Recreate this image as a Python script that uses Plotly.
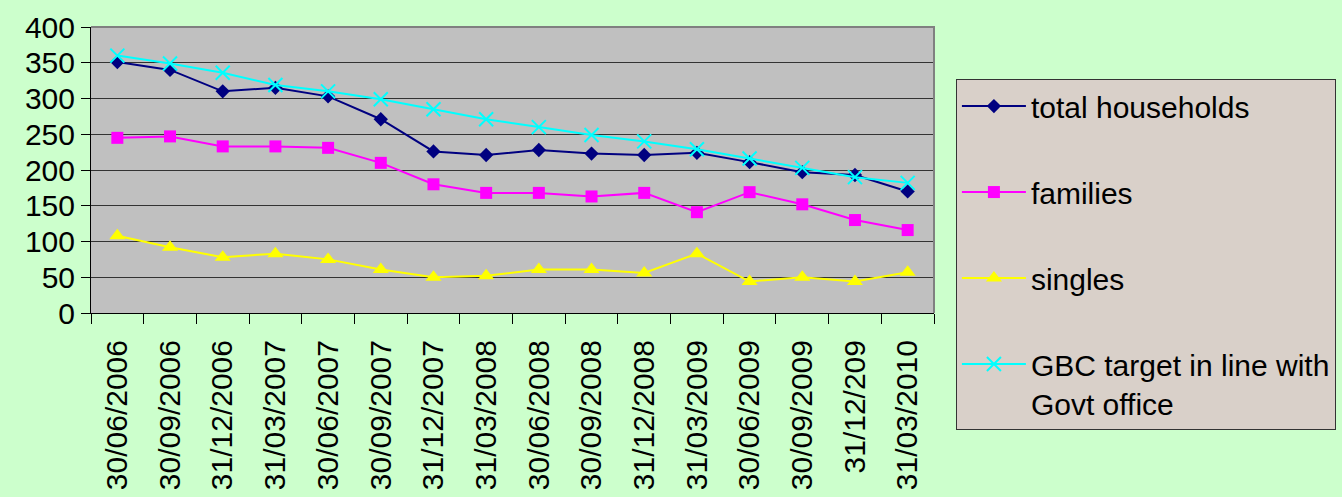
import plotly.graph_objects as go

# Quarter-end reporting dates
dates = ["30/06/2006", "30/09/2006", "31/12/2006", "31/03/2007", "30/06/2007",
         "30/09/2007", "31/12/2007", "31/03/2008", "30/06/2008", "30/09/2008",
         "31/12/2008", "31/03/2009", "30/06/2009", "30/09/2009", "31/12/209",
         "31/03/2010"]

total_households = [351, 340, 310, 315, 303, 271, 226, 221, 228, 223, 221, 224,
                    211, 197, 193, 170]
families = [245, 247, 233, 233, 231, 210, 180, 168, 168, 163, 168, 141, 169,
            152, 130, 116]
singles = [108, 92, 78, 83, 75, 61, 50, 52, 61, 61, 56, 83, 44, 50, 44, 57]
gbc_target = [360, 349, 336, 319, 310, 299, 285, 271, 260, 249, 240, 229, 216,
              203, 190, 182]

y_ticks = [0, 50, 100, 150, 200, 250, 300, 350, 400]

FONT = "Arial, Liberation Sans, sans-serif"

series = [
    ("total households", total_households, "#000080", "diamond", 11),
    ("families", families, "#FF00FF", "square", 12),
    ("singles", singles, "#FFFF00", "triangle-up", 14),
    ("GBC target in line with<br>Govt office", gbc_target, "#00FFFF", "x-thin", 14),
]

fig = go.Figure()
for i, (name, vals, color, symbol, size) in enumerate(series):
    marker = dict(symbol=symbol, size=size, color=color)
    if symbol == "x-thin":
        marker["line"] = dict(color=color, width=2)
    fig.add_trace(go.Scatter(
        x=dates, y=vals, name=name, mode="lines+markers",
        line=dict(color=color, width=2), marker=marker,
        legendgroup=f"g{i}",
    ))

# Grey frame on the top and right edges of the plotting area
fig.add_shape(type="path", xref="paper", yref="paper",
              path="M 0,1 L 1,1 L 1,0", line=dict(color="#808080", width=2))

fig.update_layout(
    width=1342, height=497,
    margin=dict(l=91, r=408, t=27, b=184, autoexpand=False),
    paper_bgcolor="#CCFFCC",
    plot_bgcolor="#C0C0C0",
    font=dict(family=FONT, color="black"),
    showlegend=True,
    legend=dict(
        x=1.026, y=0.818, xanchor="left", yanchor="top",
        bgcolor="#D9D0C9", bordercolor="#333333", borderwidth=1,
        font=dict(family=FONT, size=30, color="black"),
        traceorder="grouped", tracegroupgap=44, valign="top",
        itemwidth=64, maxheight=480,
    ),
    xaxis=dict(
        type="category", tickangle=-90, tickson="boundaries",
        ticks="outside", ticklen=10, tickcolor="black", tickwidth=1,
        ticklabelstandoff=14,
        showline=True, linecolor="black", linewidth=1,
        showgrid=False, automargin=False,
        tickfont=dict(family=FONT, size=30, color="black"),
        range=[-0.5, len(dates) - 0.5],
    ),
    yaxis=dict(
        range=[0, 400], tickvals=y_ticks, ticks="outside", ticklen=9,
        tickcolor="black", showline=True, linecolor="black", linewidth=1,
        showgrid=True, gridcolor="#333333", gridwidth=1, zeroline=False,
        automargin=False,
        tickfont=dict(family=FONT, size=30, color="black"),
    ),
)

fig.write_html("out.html")
